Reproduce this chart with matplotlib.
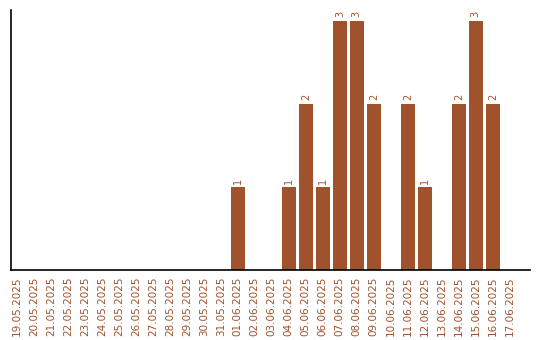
import matplotlib
matplotlib.use('Agg')
import matplotlib.pyplot as plt
import numpy as np

dates = ['19.05.2025', '20.05.2025', '21.05.2025', '22.05.2025', '23.05.2025',
         '24.05.2025', '25.05.2025', '26.05.2025', '27.05.2025', '28.05.2025',
         '29.05.2025', '30.05.2025', '31.05.2025', '01.06.2025', '02.06.2025',
         '03.06.2025', '04.06.2025', '05.06.2025', '06.06.2025', '07.06.2025',
         '08.06.2025', '09.06.2025', '10.06.2025', '11.06.2025', '12.06.2025',
         '13.06.2025', '14.06.2025', '15.06.2025', '16.06.2025', '17.06.2025']
counts = [0, 0, 0, 0, 0, 0, 0, 0, 0, 0, 0, 0, 0, 1, 0,
          0, 1, 2, 1, 3, 3, 2, 0, 2, 1, 0, 2, 3, 2, 0]

color = '#A0522D'

fig = plt.figure(figsize=(5.4, 3.4), dpi=100)
ax = fig.add_axes([0.0204, 0.206, 0.9607, 0.765])

x = np.arange(len(dates))
ax.bar(x, counts, width=0.82, color=color)
for xi, v in zip(x, counts):
    if v > 0:
        ax.text(xi, v + 0.04, str(v), rotation=90, ha='center', va='bottom',
                fontsize=7, color=color)

ax.set_xlim(-0.35, 30.18)
ax.set_ylim(0, 3.13)
ax.set_xticks(x)
ax.set_xticklabels(dates, rotation=90, fontsize=7.5, color=color)
ax.tick_params(axis='x', length=0, pad=5)
ax.set_yticks([])
for side in ('top', 'right'):
    ax.spines[side].set_visible(False)
for side in ('left', 'bottom'):
    ax.spines[side].set_linewidth(1.2)

fig.savefig('out.png', dpi=100)
